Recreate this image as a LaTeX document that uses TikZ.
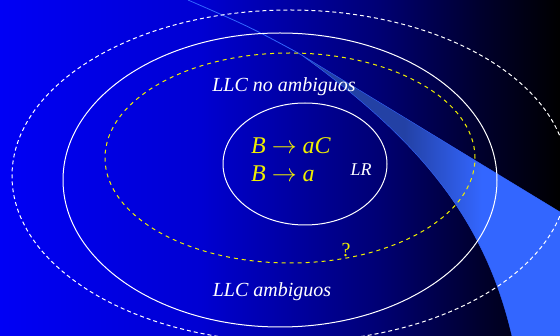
\documentclass[tikz,border=0pt]{standalone}
\usepackage{fontspec}
\setmainfont{Liberation Serif}
\definecolor{bgA}{RGB}{0,0,245}
\definecolor{bgB}{RGB}{0,0,210}
\definecolor{bgC}{RGB}{0,0,115}
\definecolor{bgD}{RGB}{0,0,45}
\definecolor{beamdark}{RGB}{35,65,165}
\definecolor{beamlight}{RGB}{51,102,255}
\definecolor{lblyellow}{RGB}{240,240,0}
\pgfdeclarehorizontalshading{bgshade}{100bp}{color(0bp)=(bgA); color(25bp)=(bgA); color(42.9bp)=(bgB); color(58.9bp)=(bgC); color(67.9bp)=(bgD); color(75bp)=(black); color(100bp)=(black)}
\pgfdeclarehorizontalshading{beamshade}{100bp}{color(0bp)=(beamdark); color(45bp)=(beamdark); color(60bp)=(beamlight); color(100bp)=(beamlight)}
\tikzset{
  setline/.style={white, line width=1pt},
  setdash/.style={white, line width=1pt, dash pattern=on 4pt off 3pt},
  ydash/.style={lblyellow, line width=1pt, dash pattern=on 4pt off 4pt},
  lbl/.style={white, font=\fontsize{20}{24}\selectfont\itshape, inner sep=0pt},
  rule/.style={lblyellow, font=\fontsize{24}{28}\selectfont\itshape, inner sep=0pt, anchor=base west},
}
\begin{document}
\begin{tikzpicture}[x=1pt,y=-1pt]
\useasboundingbox (0,0) rectangle (560,336);
\shade[shading=bgshade] (0,0) rectangle (560,336);
% beam
\coordinate (apex) at (300,54);
\draw[beamlight, line width=0.8pt] (188,0) .. controls (250,27) .. (apex);
\shade[shading=beamshade, draw=beamlight, line width=0.4pt]
  (apex) -- (560,212) -- (560,336) -- (512,336)
  .. controls (485,220) and (420,140) .. (apex) -- cycle;
% sets
\draw[setdash] (290,176) ellipse [x radius=278pt, y radius=166pt];
\draw[setline] (280,180) ellipse [x radius=217pt, y radius=147pt];
\draw[ydash] (290,158) ellipse [x radius=185pt, y radius=105pt];
\draw[setline] (305,164) ellipse [x radius=82pt, y radius=61pt];
% labels
\node[lbl, anchor=base] (noamb) at (284,92) {LLC no ambiguos};
\node[lbl, anchor=base] (amb) at (272,297) {LLC ambiguos};
\node[lbl, anchor=base, font=\fontsize{18}{22}\selectfont\itshape] (lr) at (361,176) {LR};
\node[rule] (r1) at (251,154) {B $\rightarrow$ aC};
\node[rule] (r2) at (251,182) {B $\rightarrow$ a};
\node[lbl, anchor=base, lblyellow, font=\fontsize{20}{24}\selectfont] (q) at (346,257) {?};
\end{tikzpicture}
\end{document}
